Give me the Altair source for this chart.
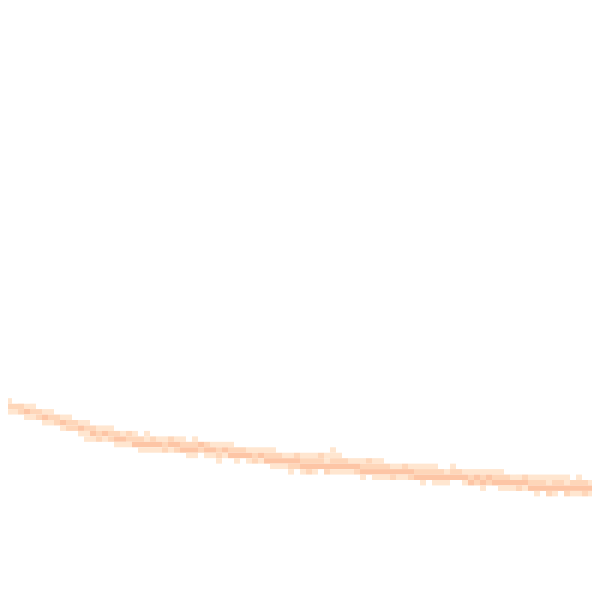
import altair as alt
import pandas as pd

# Top row of each column's filled cells (column = 6px wide bin, row = 600/110 px bin)
band_top = [73, 73, 74, 74, 74, 74, 75, 75, 75, 76,
            76, 76, 77, 77, 77, 78, 78, 78, 78, 79,
            79, 79, 79, 80, 79, 80, 80, 80, 80, 80,
            80, 81, 80, 81, 81, 81, 81, 81, 81, 82,
            82, 82, 82, 82, 82, 82, 83, 83, 83, 83,
            83, 83, 83, 83, 83, 82, 83, 84, 84, 84,
            84, 84, 84, 84, 85, 85, 85, 85, 85, 85,
            85, 85, 85, 86, 86, 85, 86, 86, 86, 86,
            86, 86, 86, 86, 87, 87, 87, 87, 87, 87,
            87, 87, 87, 87, 87, 88, 87, 88, 88, 88]

# Counts of each column's cells, from the top row downward
column_counts = [
    [1, 2, 1], [1, 2, 1], [2, 1], [2, 2], [1, 3, 1], [1, 2, 1], [2, 2], [1, 3, 1], [1, 2, 1], [2, 2],
    [1, 3, 1], [1, 2, 2], [2, 2], [1, 3, 1], [1, 2, 1, 1], [2, 3, 1], [1, 2, 2], [1, 3, 1], [1, 2, 2], [2, 3, 1],
    [1, 3, 1], [2, 2, 1], [1, 2, 3], [2, 3, 1], [1, 1, 3, 1], [2, 3, 1], [1, 3, 1], [1, 2, 2], [2, 3, 1], [1, 3, 2],
    [1, 2, 3], [2, 3, 1], [1, 2, 3, 1], [3, 2], [2, 3, 1], [1, 3, 1], [1, 2, 2, 1], [1, 3, 1], [1, 2, 3], [2, 3, 1],
    [2, 3], [1, 3, 1], [1, 2, 2], [1, 3, 1], [1, 2, 3], [1, 2, 3, 1], [2, 3, 1], [1, 3, 1], [1, 3, 2, 1], [2, 3, 2],
    [1, 2, 3, 1], [1, 2, 3, 2], [1, 2, 3, 1], [2, 2, 3], [1, 1, 3, 2], [1, 1, 2, 3, 1], [1, 2, 3, 1], [2, 3, 1], [1, 3, 1], [1, 3, 2],
    [1, 2, 3, 1], [2, 2, 3], [1, 2, 3, 1], [1, 2, 3, 1], [2, 3, 1], [1, 3, 2], [1, 3, 1], [2, 3, 1], [1, 3, 2], [1, 2, 3],
    [1, 2, 3, 1], [1, 2, 3], [1, 2, 3, 1], [2, 3, 1], [1, 3, 1], [1, 2, 3], [2, 3], [1, 3, 1], [1, 2, 3], [1, 3, 2],
    [1, 2, 3, 1], [1, 3, 2], [1, 2, 3], [1, 2, 3, 1], [2, 3, 1], [1, 3, 1], [1, 3, 2], [2, 3, 1], [1, 2, 3], [1, 2, 3, 1],
    [1, 2, 3], [1, 1, 3, 2], [1, 2, 3, 1], [1, 2, 3], [1, 1, 3, 2], [2, 3, 1], [1, 2, 3, 1], [2, 3, 2], [1, 3, 1], [2, 3, 1],
]

records = []
for col, (top, counts) in enumerate(zip(band_top, column_counts)):
    for i, c in enumerate(counts):
        records.append({"col": col, "col2": col + 1, "row": top + i, "row2": top + i + 1, "count": c})
df = pd.DataFrame(records)

chart = alt.Chart(df).mark_rect(clip=True, strokeWidth=0).encode(
    x=alt.X("col:Q", scale=alt.Scale(domain=[1.333, 98.667], nice=False, zero=False), axis=None),
    x2="col2:Q",
    y=alt.Y("row:Q", scale=alt.Scale(domain=[1.467, 108.533], nice=False, zero=False, reverse=True), axis=None),
    y2="row2:Q",
    color=alt.Color("count:Q", scale=alt.Scale(domain=[1, 3], range=["#ffe6d0", "#fdc5a5"]), legend=None),
).properties(
    width=584, height=584, padding=0
).configure_view(stroke=None)

chart.save("out.html", embed_options={"renderer": "svg", "actions": False})
